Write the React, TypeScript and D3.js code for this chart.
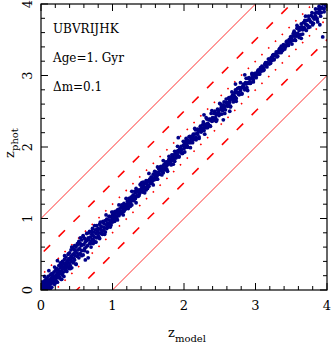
import React from 'react';
import { scaleLinear, line, range } from 'd3';

const width = 332;
const height = 346;
const plot = { left: 41, right: 327, top: 4, bottom: 290 };

// axis ticks (both axes go 0..4)
const majorTicks = [0, 1, 2, 3, 4];
const tickLabels = ['0', '1', '2', '3', '4'];
const minorStep = 0.2;

// reference lines z_phot = z_model +/- offset (solid, dashed, dotted)
const bandOffsets = [1, 0.5, 0.2];

const notes = ['UBVRIJHK', 'Age=1. Gyr', 'Δm=0.1'];

// [z_model, z_phot], split by redshift range
const lowZ = [
    [0.01,0.02],[0.02,0.06],[0.02,0.00],[0.03,0.09],[0.03,0.03],[0.04,0.01],[0.04,0.12],[0.05,0.05],[0.05,0.08],[0.06,0.02],
    [0.06,0.14],[0.07,0.06],[0.07,0.10],[0.08,0.03],[0.08,0.16],[0.09,0.08],[0.09,0.12],[0.10,0.05],[0.10,0.19],[0.11,0.10],
    [0.11,0.02],[0.12,0.14],[0.12,0.07],[0.13,0.21],[0.13,0.11],[0.14,0.09],[0.14,0.16],[0.15,0.04],[0.15,0.13],[0.16,0.22],
    [0.16,0.18],[0.17,0.10],[0.17,0.15],[0.18,0.25],[0.18,0.12],[0.19,0.19],[0.19,0.08],[0.20,0.16],[0.20,0.27],[0.21,0.21],
    [0.21,0.13],[0.22,0.30],[0.22,0.19],[0.23,0.24],[0.23,0.11],[0.24,0.17],[0.24,0.28],[0.25,0.22],[0.25,0.34],[0.26,0.26],
    [0.26,0.18],[0.27,0.31],[0.27,0.23],[0.28,0.15],[0.28,0.36],[0.29,0.27],[0.29,0.33],[0.30,0.21],[0.30,0.40],[0.31,0.30],
    [0.31,0.25],[0.32,0.37],[0.32,0.19],[0.33,0.33],[0.33,0.43],[0.34,0.28],[0.34,0.38],[0.35,0.31],[0.35,0.46],[0.36,0.36],
    [0.36,0.26],[0.37,0.41],[0.37,0.33],[0.38,0.50],[0.38,0.39],[0.39,0.30],[0.39,0.44],[0.40,0.37],[0.40,0.52],[0.41,0.42],
    [0.41,0.34],[0.42,0.47],[0.42,0.56],[0.43,0.40],[0.43,0.31],[0.44,0.49],[0.44,0.45],[0.45,0.58],[0.45,0.38],[0.46,0.51],
    [0.46,0.44],[0.47,0.62],[0.47,0.42],[0.48,0.55],[0.48,0.48],[0.49,0.36],[0.49,0.60],[0.50,0.52],
    [0.51,0.47],[0.51,0.63],[0.52,0.56],[0.53,0.45],[0.53,0.68],[0.54,0.58],[0.55,0.51],[0.55,0.73],[0.56,0.62],[0.57,0.55],
    [0.57,0.70],[0.58,0.63],[0.59,0.49],[0.59,0.76],[0.60,0.64],[0.61,0.58],[0.61,0.72],[0.62,0.42],[0.62,0.67],[0.63,0.60],
    [0.64,0.79],[0.64,0.69],[0.65,0.62],[0.66,0.73],[0.66,0.45],[0.67,0.70],[0.68,0.65],[0.68,0.82],[0.69,0.74],[0.70,0.68],
    [0.70,0.60],[0.71,0.78],[0.72,0.71],[0.72,0.86],[0.73,0.76],[0.74,0.69],[0.74,0.81],[0.75,0.74],[0.76,0.67],[0.76,0.84],
    [0.77,0.79],[0.78,0.73],[0.78,0.90],[0.79,0.82],[0.80,0.76],[0.80,0.86],[0.81,0.80],[0.82,0.72],[0.82,0.92],[0.83,0.85],
    [0.84,0.79],[0.84,0.89],[0.85,0.83],[0.86,0.78],[0.86,0.95],[0.87,0.88],[0.88,0.83],[0.88,0.93],[0.89,0.87],[0.90,0.81],
    [0.90,0.97],[0.91,0.91],[0.92,0.86],[0.92,0.99],[0.93,0.94],[0.94,0.88],[0.95,0.98],[0.95,0.92],[0.96,1.03],[0.97,0.95],
    [0.98,0.91],[0.98,1.02],[0.99,0.98],[1.00,1.05],[1.00,0.95],
    [0.01,0.11],[0.03,0.00],[0.05,0.19],[0.07,0.01],[0.09,0.14],[0.11,0.27],[0.13,0.01],[0.15,0.23],[0.17,0.13],[0.19,0.32],
    [0.21,0.11],[0.23,0.41],[0.25,0.18],[0.27,0.38],[0.29,0.15],[0.31,0.37],[0.33,0.48],[0.35,0.27],[0.37,0.40],[0.39,0.51],
    [0.41,0.30],[0.43,0.60],[0.45,0.40],[0.47,0.56],[0.49,0.36],[0.51,0.65],[0.53,0.50],[0.55,0.65],[0.57,0.48],[0.59,0.75],
    [0.61,0.55],[0.63,0.70],[0.65,0.53],[0.67,0.80],[0.69,0.65],[0.71,0.82],[0.73,0.65],[0.75,0.90],[0.77,0.67],[0.79,0.85],
    [0.81,0.74],[0.83,0.95],[0.85,0.80],[0.87,0.96],[0.89,0.78],[0.91,1.05],[0.93,0.90],[0.95,1.03],[0.97,0.88],[0.99,1.09],
];

const midZ = [
    [1.01,1.00],[1.02,1.07],[1.03,0.99],[1.03,1.04],[1.04,1.10],[1.05,1.03],[1.06,1.08],[1.06,1.01],[1.07,1.12],[1.08,1.06],
    [1.09,1.04],[1.09,1.13],[1.10,1.09],[1.11,1.07],[1.12,1.15],[1.12,1.10],[1.13,1.08],[1.14,1.17],[1.15,1.12],[1.16,1.10],
    [1.16,1.21],[1.17,1.16],[1.18,1.13],[1.19,1.19],[1.20,1.16],[1.21,1.24],[1.21,1.18],[1.22,1.14],[1.23,1.22],[1.24,1.27],
    [1.25,1.21],[1.26,1.30],[1.26,1.24],[1.27,1.19],[1.28,1.27],[1.29,1.33],[1.30,1.25],[1.31,1.31],[1.32,1.36],[1.32,1.28],
    [1.33,1.42],[1.34,1.32],[1.35,1.37],[1.36,1.31],[1.37,1.40],[1.38,1.35],[1.39,1.47],[1.40,1.39],[1.41,1.44],[1.41,1.50],
    [1.42,1.37],[1.43,1.46],[1.44,1.41],[1.45,1.49],[1.46,1.44],[1.47,1.40],[1.48,1.50],[1.49,1.47],[1.50,1.53],[1.51,1.45],
    [1.52,1.55],[1.53,1.51],[1.54,1.58],[1.55,1.50],[1.56,1.56],[1.57,1.62],[1.58,1.54],[1.59,1.60],[1.60,1.57],[1.61,1.65],
    [1.62,1.59],[1.63,1.55],[1.64,1.64],[1.65,1.69],[1.66,1.62],[1.67,1.67],[1.68,1.73],[1.69,1.66],[1.70,1.71],[1.71,1.64],
    [1.72,1.75],[1.73,1.70],[1.74,1.78],[1.75,1.73],[1.76,1.69],[1.77,1.79],[1.78,1.76],[1.79,1.83],[1.80,1.77],[1.81,1.82],
    [1.82,1.75],[1.83,1.85],[1.84,1.81],[1.85,1.89],[1.86,1.84],[1.87,1.80],[1.88,1.90],[1.89,1.86],[1.90,1.94],[1.91,1.89],
    [1.92,2.13],[1.92,1.95],[1.93,1.87],[1.94,1.97],[1.95,1.93],[1.96,2.01],[1.97,1.96],[1.98,1.91],[1.99,2.02],[2.00,1.98],
    [1.01,1.09],[1.03,0.96],[1.05,1.08],[1.07,0.98],[1.09,1.19],[1.11,1.07],[1.13,1.19],[1.15,1.05],[1.17,1.19],[1.19,1.28],
    [1.21,1.15],[1.23,1.28],[1.25,1.17],[1.27,1.38],[1.29,1.26],[1.31,1.38],[1.33,1.22],[1.35,1.39],[1.37,1.32],[1.39,1.48],
    [1.41,1.39],[1.43,1.51],[1.45,1.36],[1.47,1.53],[1.49,1.42],[1.51,1.63],[1.53,1.49],[1.55,1.58],[1.57,1.47],[1.59,1.66],
    [1.61,1.55],[1.63,1.72],[1.65,1.62],[1.67,1.72],[1.69,1.61],[1.71,1.81],[1.73,1.68],[1.75,1.79],[1.77,1.66],[1.79,1.87],
    [1.81,1.79],[1.83,1.89],[1.85,1.76],[1.87,1.94],[1.89,1.85],[1.91,2.01],[1.93,1.86],[1.95,1.98],[1.97,1.91],[1.99,2.08],
    [1.00,1.02],[1.04,1.01],[1.08,1.09],[1.12,1.15],[1.16,1.14],[1.20,1.20],[1.24,1.23],[1.28,1.31],[1.32,1.29],[1.36,1.38],
    [1.40,1.41],[1.44,1.42],[1.48,1.51],[1.52,1.52],[1.56,1.53],[1.60,1.62],[1.64,1.63],[1.68,1.69],[1.72,1.75],[1.76,1.74],
    [1.80,1.80],[1.84,1.86],[1.88,1.85],[1.92,1.93],[1.96,1.95],
];

const highZ = [
    [2.01,2.05],[2.02,2.00],[2.03,2.09],[2.04,2.05],[2.05,2.00],[2.06,2.09],[2.07,2.06],[2.08,2.15],[2.09,2.06],[2.10,2.12],
    [2.11,2.11],[2.12,2.06],[2.13,2.18],[2.14,2.12],[2.15,2.18],[2.16,2.24],[2.17,2.13],[2.18,2.19],[2.19,2.18],[2.20,2.24],
    [2.21,2.14],[2.22,2.24],[2.23,2.29],[2.24,2.21],[2.25,2.25],[2.26,2.31],[2.27,2.25],[2.28,2.23],[2.29,2.32],[2.30,2.31],
    [2.31,2.27],[2.32,2.39],[2.33,2.33],[2.34,2.32],[2.35,2.39],[2.36,2.30],[2.37,2.39],[2.38,2.47],[2.39,2.36],[2.40,2.41],
    [2.41,2.40],[2.42,2.47],[2.43,2.39],[2.44,2.47],[2.45,2.45],[2.46,2.38],[2.47,2.53],[2.48,2.46],[2.49,2.51],[2.50,2.61],
    [2.51,2.46],[2.52,2.53],[2.53,2.57],[2.54,2.51],[2.55,2.54],[2.56,2.63],[2.57,2.57],[2.58,2.52],[2.59,2.62],[2.60,2.62],
    [2.61,2.57],[2.62,2.68],[2.63,2.61],[2.64,2.65],[2.65,2.56],[2.66,2.70],[2.67,2.67],[2.68,2.73],[2.69,2.66],[2.70,2.72],
    [2.71,2.70],[2.72,2.80],[2.73,2.68],[2.74,2.77],[2.75,2.76],[2.76,2.74],[2.77,2.83],[2.78,2.74],[2.79,2.79],[2.80,2.83],
    [2.81,2.75],[2.82,2.84],[2.83,2.88],[2.84,2.83],[2.85,2.82],[2.86,2.90],[2.87,2.88],[2.88,2.83],[2.89,2.96],[2.90,2.90],
    [2.91,2.89],[2.92,2.95],[2.93,2.89],[2.94,2.96],[2.95,3.01],[2.96,2.95],[2.97,2.94],[2.98,3.02],[2.99,2.99],[3.00,2.98],
    [2.28,2.45],[2.55,2.38],[2.72,2.88],[2.64,2.50],[2.85,3.01],
    [2.01,1.93],[2.03,2.12],[2.05,2.00],[2.07,2.14],[2.09,1.99],[2.11,2.15],[2.13,2.10],[2.15,2.26],[2.17,2.10],[2.19,2.25],
    [2.21,2.12],[2.23,2.28],[2.25,2.23],[2.27,2.35],[2.29,2.18],[2.31,2.41],[2.33,2.27],[2.35,2.38],[2.37,2.29],[2.39,2.51],
    [2.41,2.37],[2.43,2.50],[2.45,2.36],[2.47,2.52],[2.49,2.44],[2.51,2.60],[2.53,2.46],[2.55,2.59],[2.57,2.47],[2.59,2.67],
    [2.61,2.58],[2.63,2.69],[2.65,2.57],[2.67,2.77],[2.69,2.63],[2.71,2.76],[2.73,2.64],[2.75,2.82],[2.77,2.73],[2.79,2.90],
    [2.81,2.74],[2.83,2.86],[2.85,2.80],[2.87,2.96],[2.89,2.79],[2.91,2.97],[2.93,2.90],[2.95,3.03],[2.97,2.91],[2.99,3.03],
    [2.00,2.03],[2.04,2.02],[2.08,2.08],[2.12,2.14],[2.16,2.13],[2.20,2.21],[2.24,2.27],[2.28,2.27],[2.32,2.30],[2.36,2.38],
    [2.40,2.40],[2.44,2.41],[2.48,2.49],[2.52,2.55],[2.56,2.54],[2.60,2.61],[2.64,2.63],[2.68,2.70],[2.72,2.69],[2.76,2.76],
    [2.80,2.83],[2.84,2.82],[2.88,2.89],[2.92,2.91],[2.96,2.98],
];

const topZ = [
    [3.01,3.03],[3.02,3.01],[3.03,3.06],[3.04,3.04],[3.05,3.02],[3.06,3.07],[3.07,3.11],[3.08,3.06],[3.09,3.09],[3.10,3.12],
    [3.11,3.10],[3.12,3.08],[3.13,3.16],[3.14,3.15],[3.15,3.13],[3.16,3.18],[3.17,3.17],[3.18,3.23],[3.19,3.16],[3.20,3.21],
    [3.21,3.20],[3.22,3.25],[3.23,3.21],[3.24,3.24],[3.25,3.29],[3.26,3.23],[3.27,3.28],[3.28,3.30],[3.29,3.28],[3.30,3.26],
    [3.31,3.33],[3.32,3.32],[3.33,3.36],[3.34,3.32],[3.35,3.36],[3.36,3.41],[3.37,3.36],[3.38,3.35],[3.39,3.41],[3.40,3.40],
    [3.41,3.42],[3.42,3.40],[3.43,3.47],[3.44,3.43],[3.45,3.45],[3.46,3.43],[3.47,3.50],[3.48,3.49],[3.49,3.47],[3.50,3.52],
    [3.51,3.55],[3.52,3.49],[3.53,3.59],[3.54,3.55],[3.55,3.50],[3.56,3.59],[3.57,3.55],[3.58,3.66],[3.59,3.59],[3.60,3.56],
    [3.61,3.63],[3.62,3.67],[3.63,3.57],[3.64,3.65],[3.65,3.68],[3.66,3.64],[3.67,3.74],[3.68,3.67],[3.69,3.65],[3.70,3.72],
    [3.71,3.71],[3.72,3.77],[3.73,3.70],[3.74,3.67],[3.75,3.79],[3.76,3.77],[3.77,3.75],[3.78,3.84],[3.79,3.74],[3.80,3.82],
    [3.81,3.81],[3.82,3.79],[3.83,3.87],[3.84,3.83],[3.85,3.88],[3.86,3.80],[3.87,3.88],[3.88,3.93],[3.89,3.87],[3.90,3.90],
    [3.91,3.94],[3.92,3.88],[3.93,3.95],[3.94,4.00],[3.95,3.94],[3.96,3.93],[3.97,4.01],[3.98,3.99],[3.99,3.97],[4.00,4.03],
    [3.87,3.75],[3.90,3.71],[3.94,3.54],[3.80,3.71],[3.58,3.70],[3.64,3.52],[3.98,4.06],[3.70,3.83],
    [3.01,2.97],[3.04,3.08],[3.06,3.02],[3.09,3.13],[3.11,3.07],[3.14,3.18],[3.16,3.12],[3.19,3.23],[3.21,3.17],[3.24,3.28],
    [3.26,3.22],[3.29,3.33],[3.31,3.27],[3.34,3.38],[3.36,3.32],[3.39,3.43],[3.41,3.37],[3.44,3.48],[3.46,3.42],[3.49,3.54],
    [3.51,3.44],[3.54,3.62],[3.56,3.49],[3.59,3.68],[3.61,3.53],[3.64,3.72],[3.66,3.58],[3.69,3.77],[3.71,3.63],[3.74,3.83],
    [3.76,3.68],[3.79,3.88],[3.81,3.73],[3.84,3.93],[3.86,3.78],[3.89,3.97],[3.91,3.83],[3.94,4.02],[3.96,3.89],[3.99,4.05],
];

const points = [...lowZ, ...midZ, ...highZ, ...topZ];

const x = scaleLinear().domain([0, 4]).range([plot.left, plot.right]);
const y = scaleLinear().domain([0, 4]).range([plot.bottom, plot.top]);

const diag = line<[number, number]>()
    .x(d => x(d[0]))
    .y(d => y(d[1]));

const lineStyles = [
    { width: 1, dash: undefined, color: '#ff3030' },
    { width: 1.6, dash: '9 12', color: '#ff0000' },
    { width: 1.6, dash: '1.6 8', color: '#ff0000' },
];

const minorTicks = range(0, 4.0001, minorStep).filter(v => Math.abs(v - Math.round(v)) > 1e-6);

const font = '"DejaVu Serif", serif';

export default function App() {
    const majorLen = 7;
    const minorLen = 4;

    return (
        <svg width={width} height={height} style={{ position: 'absolute', left: 0, top: 0 }}
            fontFamily={font}>
            <defs>
                <clipPath id="plotClip">
                    <rect x={plot.left} y={plot.top} width={plot.right - plot.left} height={plot.bottom - plot.top} />
                </clipPath>
            </defs>
            <rect width={width} height={height} fill="#fff" />

            <g clipPath="url(#plotClip)">
                {bandOffsets.map((off, i) => [off, -off].map(o => (
                    <path key={`${i}-${o}`}
                        d={diag([[-1, -1 + o], [5, 5 + o]]) || ''}
                        fill="none"
                        stroke={lineStyles[i].color}
                        strokeWidth={lineStyles[i].width}
                        strokeDasharray={lineStyles[i].dash} />
                )))}
                {points.map((p, i) => (
                    <circle key={i} cx={x(p[0])} cy={y(p[1])} r={1.9} fill="#000088" />
                ))}
            </g>

            {/* frame */}
            <rect x={plot.left} y={plot.top} width={plot.right - plot.left} height={plot.bottom - plot.top}
                fill="none" stroke="#000" strokeWidth={1.2} />

            {/* ticks on all four sides, pointing inward */}
            <g stroke="#000" strokeWidth={1}>
                {majorTicks.map(t => (
                    <g key={`M${t}`}>
                        <line x1={x(t)} x2={x(t)} y1={plot.bottom} y2={plot.bottom - majorLen} />
                        <line x1={x(t)} x2={x(t)} y1={plot.top} y2={plot.top + majorLen} />
                        <line y1={y(t)} y2={y(t)} x1={plot.left} x2={plot.left + majorLen} />
                        <line y1={y(t)} y2={y(t)} x1={plot.right} x2={plot.right - majorLen} />
                    </g>
                ))}
                {minorTicks.map(t => (
                    <g key={`m${t}`}>
                        <line x1={x(t)} x2={x(t)} y1={plot.bottom} y2={plot.bottom - minorLen} />
                        <line x1={x(t)} x2={x(t)} y1={plot.top} y2={plot.top + minorLen} />
                        <line y1={y(t)} y2={y(t)} x1={plot.left} x2={plot.left + minorLen} />
                        <line y1={y(t)} y2={y(t)} x1={plot.right} x2={plot.right - minorLen} />
                    </g>
                ))}
            </g>

            {/* tick labels */}
            <g fontSize={13} fill="#000">
                {majorTicks.map((t, i) => (
                    <text key={`xl${t}`} x={x(t)} y={310} textAnchor="middle">{tickLabels[i]}</text>
                ))}
                {majorTicks.map((t, i) => (
                    <text key={`yl${t}`} transform={`translate(32,${y(t)}) rotate(-90)`} textAnchor="middle">{tickLabels[i]}</text>
                ))}
            </g>

            {/* axis titles */}
            <text x={(plot.left + plot.right) / 2 + 3} y={337} textAnchor="middle" fontSize={13}>
                z<tspan fontSize={10} dy={5}>model</tspan>
            </text>
            <text transform={`translate(14,${(plot.top + plot.bottom) / 2 - 4}) rotate(-90)`} textAnchor="middle" fontSize={13}>
                z<tspan fontSize={10} dy={4}>phot</tspan>
            </text>

            {/* annotations */}
            <g fontSize={12}>
                {notes.map((n, i) => (
                    <text key={n} x={53} y={33 + i * 29}>{n}</text>
                ))}
            </g>
        </svg>
    );
}
